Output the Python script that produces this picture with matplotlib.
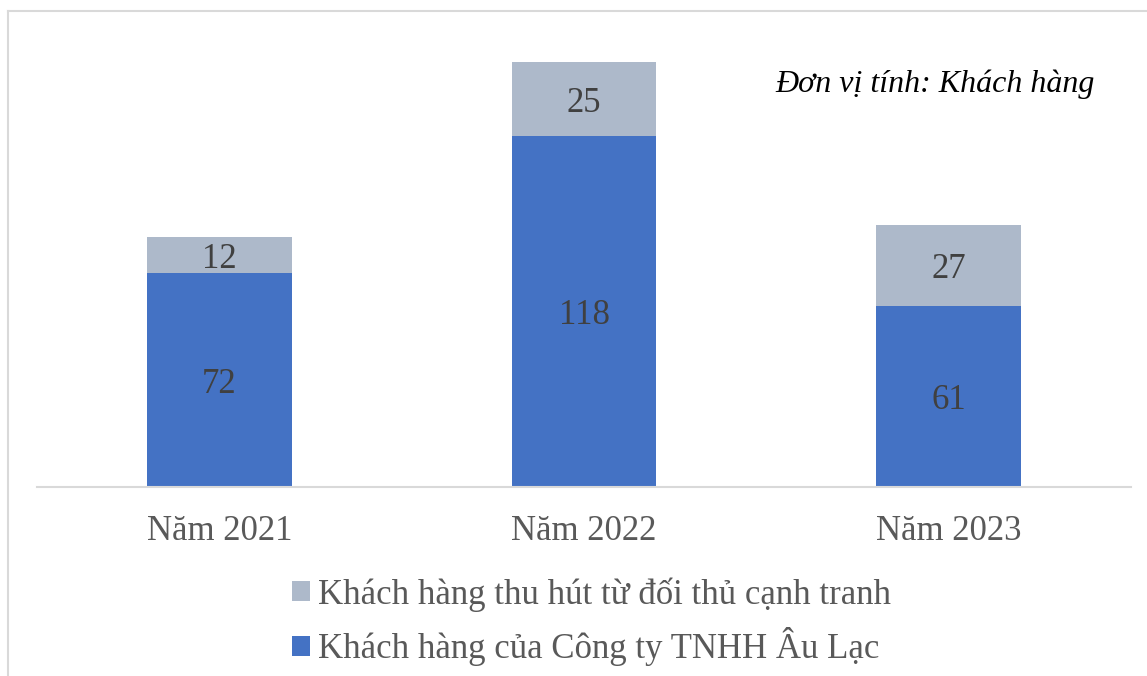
import matplotlib.pyplot as plt
from matplotlib.lines import Line2D

years = ['Năm 2021', 'Năm 2022', 'Năm 2023']
own_customers = [72, 118, 61]
won_customers = [12, 25, 27]
label_own = 'Khách hàng của Công ty TNHH Âu Lạc'
label_won = 'Khách hàng thu hút từ đối thủ cạnh tranh'
unit_note = 'Đơn vị tính: Khách hàng'

blue = '#4472C4'
grey = '#ADB9CA'
W, H = 1147, 676

plt.rcParams['font.family'] = ['Liberation Serif', 'DejaVu Serif']

fig = plt.figure(figsize=(W / 100, H / 100), dpi=100)
ax = fig.add_axes([37 / W, (H - 487) / H, (1131 - 37) / W, (487 - 41.2) / H])

x = range(len(years))
b1 = ax.bar(x, own_customers, width=0.397, color=blue, label=label_own)
b2 = ax.bar(x, won_customers, width=0.397, bottom=own_customers, color=grey, label=label_won)
labels = ax.bar_label(b1, label_type='center', fontsize=25, color='#404040')
labels += ax.bar_label(b2, label_type='center', fontsize=25, color='#404040')
for t in labels:
    t.xyann = (0, -3)

ax.set_xlim(-0.5, 2.5)
ax.set_ylim(0, 150)
ax.set_xticks(list(x))
ax.set_xticklabels(years, fontsize=25, color='#595959')
ax.tick_params(axis='x', length=0, pad=20.5)
ax.set_yticks([])
for side in ['top', 'right', 'left']:
    ax.spines[side].set_visible(False)
ax.spines['bottom'].set_color('#d9d9d9')
ax.spines['bottom'].set_linewidth(1.5)

ax.text(1095 / W, 1 - 84 / H, unit_note, transform=fig.transFigure, ha='right', va='center',
        fontsize=23, style='italic', color='black')

# chart border (left and top)
fig.add_artist(Line2D([8 / W, 8 / W], [0, 1 - 11 / H], transform=fig.transFigure, color='#d9d9d9', lw=1.5))
fig.add_artist(Line2D([8 / W, 1], [1 - 11 / H, 1 - 11 / H], transform=fig.transFigure, color='#d9d9d9', lw=1.5))

fig.legend(handles=[b2, b1], loc='upper left', bbox_to_anchor=(292 / W, 1 - 577 / H),
           frameon=False, fontsize=25, labelcolor='#595959',
           handlelength=0.52, handleheight=0.52, handletextpad=0.23, labelspacing=0.45,
           borderaxespad=0, borderpad=0)

fig.savefig('out.png', dpi=100)
